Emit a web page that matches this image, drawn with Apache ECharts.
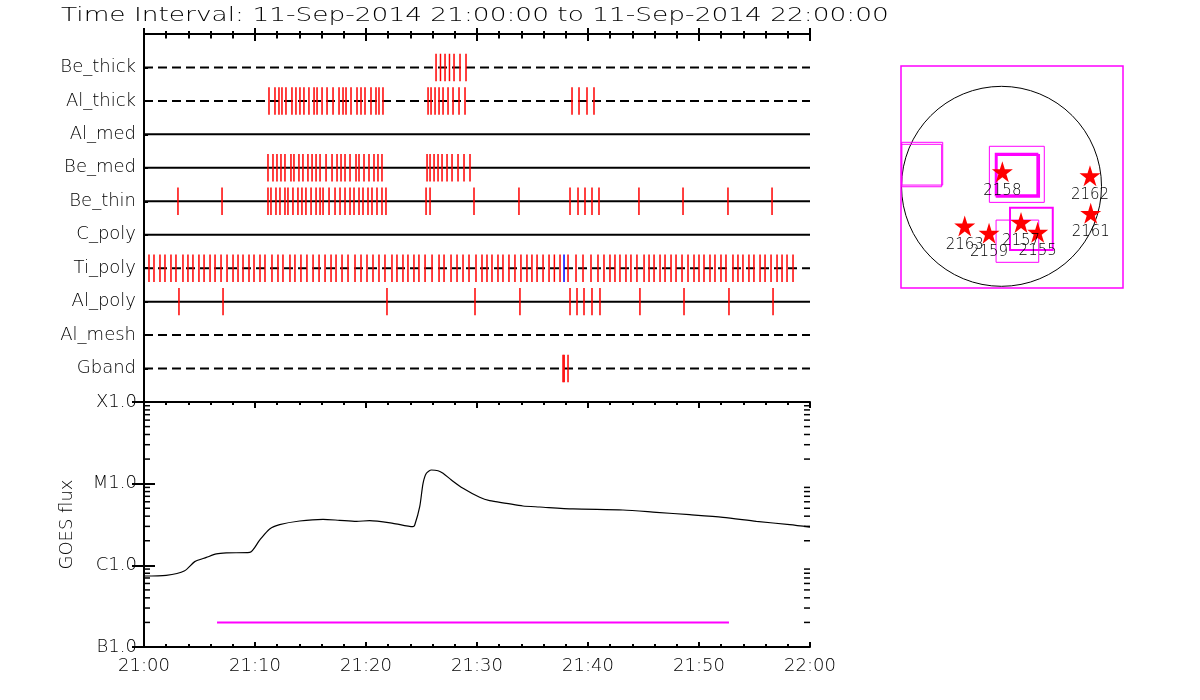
<!DOCTYPE html>
<html><head><meta charset="utf-8">
<script src="https://cdn.jsdelivr.net/npm/echarts@6/dist/echarts.min.js"></script>
<style>html,body{margin:0;padding:0;background:#fff}#c{width:1200px;height:700px}</style>
</head><body><div id="c"></div>
<script>
const titleText = 'Time Interval: 11-Sep-2014 21:00:00 to 11-Sep-2014 22:00:00';
const filterNames = ['Be_thick','Al_thick','Al_med','Be_med','Be_thin','C_poly','Ti_poly','Al_poly','Al_mesh','Gband'];
const filterDashed = [true,true,false,false,false,false,true,false,true,true];
const timeTickLabels = ['21:00','21:10','21:20','21:30','21:40','21:50','22:00'];
const fluxTickLabels = ['B1.0','C1.0','M1.0','X1.0'];
const yAxisTitle = 'GOES flux';

// exposure times, minutes after 21:00:00
const beThick = [26.31, 26.71, 27.12, 27.52, 27.93, 28.47, 29.01];
const alThick = [11.26, 11.80, 12.16, 12.43, 12.79, 13.33, 13.69, 14.05, 14.41, 14.86, 15.32, 15.59, 16.04, 16.49, 17.03, 17.57, 17.93, 18.20, 18.65, 19.19, 19.55, 19.91, 20.45, 20.90, 21.17, 21.53, 25.59, 25.86, 26.22, 26.58, 26.94, 27.39, 27.84, 28.38, 28.92, 38.56, 39.19, 39.91, 40.54];
const alMed = [];
const beMed = [11.17, 11.62, 11.98, 12.34, 12.70, 13.24, 13.51, 13.96, 14.32, 14.77, 15.14, 15.50, 15.86, 16.40, 16.94, 17.39, 17.75, 18.11, 18.56, 19.10, 19.37, 19.82, 20.27, 20.72, 21.08, 21.44, 25.50, 25.77, 26.13, 26.49, 26.85, 27.30, 27.75, 28.29, 28.83, 29.37];
const beThin = [3.06, 7.03, 11.17, 11.44, 11.89, 12.25, 12.70, 12.97, 13.42, 13.87, 14.23, 14.59, 15.05, 15.50, 15.86, 16.13, 16.67, 17.21, 17.66, 18.11, 18.56, 18.92, 19.37, 19.73, 20.18, 20.54, 20.99, 21.44, 21.80, 25.41, 25.77, 29.73, 33.78, 38.38, 39.10, 39.73, 40.36, 40.99, 44.59, 48.56, 52.61, 56.58];
const cPoly = [];
const tiPoly = [0.45, 0.90, 1.44, 1.89, 2.43, 2.88, 3.51, 3.96, 4.41, 4.95, 5.41, 5.95, 6.40, 6.94, 7.48, 8.02, 8.47, 8.92, 9.46, 9.91, 10.45, 10.90, 11.53, 12.07, 12.52, 13.15, 13.60, 14.14, 14.68, 15.23, 15.77, 16.31, 16.85, 17.30, 17.84, 18.38, 19.01, 19.55, 20.09, 20.63, 21.17, 21.71, 22.34, 22.79, 23.33, 23.78, 24.32, 24.77, 25.32, 25.95, 26.58, 27.03, 27.66, 28.20, 28.74, 29.28, 29.91, 30.45, 30.90, 31.35, 31.89, 32.34, 32.88, 33.42, 33.96, 34.50, 34.95, 35.41, 35.95, 36.49, 36.97, 37.48, 38.20, 38.92, 39.55, 40.27, 40.90, 41.44, 41.98, 42.43, 42.88, 43.42, 43.87, 44.41, 45.05, 45.50, 45.95, 46.49, 46.94, 47.48, 47.93, 48.47, 49.01, 49.55, 50.00, 50.45, 50.99, 51.44, 51.98, 52.43, 53.06, 53.51, 53.96, 54.50, 54.95, 55.50, 55.95, 56.49, 57.03, 57.48, 57.93, 58.47];
const tiPolyBlue = [37.84];
const alPoly = [3.15, 7.12, 21.89, 29.82, 33.87, 38.38, 39.01, 39.64, 40.36, 41.08, 44.68, 48.65, 52.70, 56.67];
const alMesh = [];
const gband = [37.75, 37.85, 38.20];

// GOES 1-8 A flux (W/m^2) vs minutes after 21:00
const goesTime = [0, 2.0, 3.67, 4.57, 5.62, 6.52, 7.42, 9.52, 10.42, 11.32, 12.22, 14.02, 16.13, 17.63, 19.14, 20.33, 22.43, 24.23, 24.39, 24.84, 25.14, 25.44, 25.89, 26.49, 26.94, 27.69, 28.74, 30.24, 31.14, 32.65, 34.14, 35.65, 38.65, 43.15, 46.16, 49.16, 52.16, 55.17, 58.17, 60];
const goesFlux = [7.40e-7, 7.55e-7, 8.6e-7, 1.11e-6, 1.25e-6, 1.38e-6, 1.42e-6, 1.44e-6, 2.04e-6, 2.79e-6, 3.15e-6, 3.49e-6, 3.66e-6, 3.56e-6, 3.46e-6, 3.52e-6, 3.27e-6, 2.97e-6, 3.12e-6, 5.22e-6, 1.01e-5, 1.34e-5, 1.47e-5, 1.44e-5, 1.34e-5, 1.11e-5, 8.77e-6, 6.81e-6, 6.19e-6, 5.75e-6, 5.33e-6, 5.18e-6, 4.90e-6, 4.76e-6, 4.46e-6, 4.17e-6, 3.87e-6, 3.46e-6, 3.15e-6, 2.94e-6];
const barTime = [6.58, 52.70];
const barFlux = [2.0e-7, 2.0e-7];

// solar map (arcsec)
const diskRadius = 954;
const fovBox = [-959, -970, 1159, 1148];
const thinBoxes = [[-952, 12, -561, 420], [-952, -4, -571, 401], [-116, -153, 408, 382], [-52, -725, 355, -322]];
const thickBoxes = [[-55, -86, 342, 311], [-46, -99, 358, 299], [81, -608, 489, -204]];
const arNumbers = ['2158', '2162', '2161', '2163', '2159', '2157', '2155'];
const arX = [8, 844, 851, -351, -119, 186, 345];
const arY = [139, 101, -258, -379, -448, -344, -439];

const FONT = 'DejaVu Sans';
const FW = 200;
const rowTimes = [beThick, alThick, alMed, beMed, beThin, cPoly, tiPoly, alPoly, alMesh, gband];
const tickData = [];
rowTimes.forEach((arr, i) => arr.forEach(t => tickData.push([t, i + 1])));
const blueData = tiPolyBlue.map(t => [t, 7]);
const minorFlux = [];
for (let e = -7; e < -4; e++) for (let k = 2; k <= 9; k++) minorFlux.push([k * Math.pow(10, e)]);

function tickRender(color) {
  return function (params, api) {
    const t = api.value(0), r = api.value(1);
    const a = api.coord([t, r - 0.41]), b = api.coord([t, r + 0.41]);
    return {type: 'line', shape: {x1: a[0], y1: a[1], x2: b[0], y2: b[1]}, style: {stroke: color, lineWidth: 1.5}};
  };
}
function rectRender(width) {
  return function (params, api) {
    const a = api.coord([api.value(0), api.value(1)]), b = api.coord([api.value(2), api.value(3)]);
    return {type: 'rect', shape: {x: Math.min(a[0], b[0]), y: Math.min(a[1], b[1]), width: Math.abs(b[0] - a[0]), height: Math.abs(b[1] - a[1])},
      style: {fill: 'none', stroke: '#ff00ff', lineWidth: width}};
  };
}
const axLine = {show: true, lineStyle: {color: '#000', width: 2}};
function xAx(grid, pos, major, minor, labels) {
  return {type: 'value', gridIndex: grid, position: pos, min: 0, max: 60, interval: 10,
    axisLine: axLine, splitLine: {show: false},
    axisTick: {show: true, inside: true, length: major, lineStyle: {color: '#000', width: 2}},
    minorTick: {show: true, splitNumber: 5, length: minor, lineStyle: {color: '#000', width: 2}},
    axisLabel: labels ? {show: true, margin: 10, color: '#000', fontFamily: FONT, fontWeight: FW, fontSize: 18, showMinLabel: true, showMaxLabel: true,
      formatter: v => timeTickLabels[Math.round(v / 10)]} : {show: false}};
}
const lineSeries = filterNames.map((n, i) => ({
  type: 'line', xAxisIndex: 0, yAxisIndex: 0, data: [[0, i + 1], [60, i + 1]], symbol: 'none', silent: true, z: 2,
  lineStyle: {color: '#000', width: 2, type: filterDashed[i] ? [9, 5] : 'solid'}
}));

const option = {
  animation: false,
  backgroundColor: '#fff',
  graphic: [{type: 'text', x: 61, y: 16, scaleX: 1.32, style: {text: titleText, font: '200 20px "DejaVu Sans"', fill: '#000', verticalAlign: 'middle'}}],
  grid: [
    {left: 144, top: 34, width: 666, height: 368, outerBoundsMode: 'none', containLabel: false},
    {left: 144, top: 402, width: 666, height: 245, outerBoundsMode: 'none', containLabel: false},
    {left: 901, top: 66, width: 222, height: 222, outerBoundsMode: 'none', containLabel: false}
  ],
  xAxis: [
    xAx(0, 'bottom', 6, 3, false),
    xAx(0, 'top', 7, 4.5, false),
    xAx(1, 'bottom', 5, 3, true),
    xAx(1, 'top', 6, 3, false),
    {type: 'value', gridIndex: 2, min: fovBox[0], max: fovBox[2], show: false}
  ],
  yAxis: [
    {type: 'value', gridIndex: 0, position: 'left', min: 0, max: 11, interval: 1, inverse: true,
      axisLine: axLine, splitLine: {show: false},
      axisTick: {show: true, inside: true, length: 4, lineStyle: {color: '#000', width: 2}},
      axisLabel: {show: true, margin: 8, color: '#000', fontFamily: FONT, fontWeight: FW, fontSize: 18, formatter: v => filterNames[v - 1] || ''}},
    {type: 'value', gridIndex: 0, position: 'right', min: 0, max: 11, interval: 1, inverse: true,
      axisLine: axLine, splitLine: {show: false}, axisTick: {show: false}, axisLabel: {show: false}},
    {type: 'log', logBase: 10, gridIndex: 1, position: 'left', min: 1e-7, max: 1e-4,
      axisLine: axLine, splitLine: {show: false},
      axisTick: {show: true, inside: true, length: 11, lineStyle: {color: '#000', width: 2}},
      axisLabel: {show: true, margin: 7, color: '#000', fontFamily: FONT, fontWeight: FW, fontSize: 18, showMinLabel: true, showMaxLabel: true,
        formatter: v => fluxTickLabels[Math.round(Math.log10(v)) + 7] || ''},
      name: yAxisTitle, nameLocation: 'middle', nameRotate: 90, nameGap: 68,
      nameTextStyle: {color: '#000', fontFamily: FONT, fontWeight: FW, fontSize: 18}},
    {type: 'log', logBase: 10, gridIndex: 1, position: 'right', min: 1e-7, max: 1e-4,
      axisLine: axLine, splitLine: {show: false},
      axisTick: {show: true, inside: true, length: 12, lineStyle: {color: '#000', width: 2}},
      axisLabel: {show: false}},
    {type: 'value', gridIndex: 2, min: fovBox[1], max: fovBox[3], show: false}
  ],
  series: [
    ...lineSeries,
    {type: 'custom', xAxisIndex: 0, yAxisIndex: 0, data: tickData, renderItem: tickRender('#ff0000'), z: 5, silent: true},
    {type: 'custom', xAxisIndex: 0, yAxisIndex: 0, data: blueData, renderItem: tickRender('#0000ff'), z: 6, silent: true},
    {type: 'line', xAxisIndex: 2, yAxisIndex: 2, data: goesTime.map((t, i) => [t, goesFlux[i]]), symbol: 'none', smooth: 0.25,
      lineStyle: {color: '#000', width: 1.2}, silent: true},
    {type: 'line', xAxisIndex: 2, yAxisIndex: 2, data: barTime.map((t, i) => [t, barFlux[i]]), symbol: 'none',
      lineStyle: {color: '#ff00ff', width: 2}, silent: true},
    {type: 'custom', xAxisIndex: 2, yAxisIndex: 2, data: minorFlux, clip: false, silent: true,
      encode: {y: 0},
      renderItem: function (params, api) {
        const v = api.value(0);
        const l = api.coord([0, v]), r = api.coord([60, v]);
        return {type: 'group', children: [
          {type: 'line', shape: {x1: l[0], y1: l[1], x2: l[0] + 6, y2: l[1]}, style: {stroke: '#000', lineWidth: 1.5}},
          {type: 'line', shape: {x1: r[0] - 6, y1: r[1], x2: r[0], y2: r[1]}, style: {stroke: '#000', lineWidth: 1.5}}
        ]};
      }},
    {type: 'custom', xAxisIndex: 4, yAxisIndex: 4, data: [[0, 0, diskRadius]], clip: false, silent: true,
      renderItem: function (params, api) {
        const c = api.coord([api.value(0), api.value(1)]);
        const r = api.size([api.value(2), 0])[0];
        return {type: 'circle', shape: {cx: c[0], cy: c[1], r: r}, style: {fill: 'none', stroke: '#000', lineWidth: 1}};
      }},
    {type: 'custom', xAxisIndex: 4, yAxisIndex: 4, data: [fovBox], clip: false, silent: true, encode: {x: [0, 2], y: [1, 3]}, renderItem: rectRender(1.5)},
    {type: 'custom', xAxisIndex: 4, yAxisIndex: 4, data: thinBoxes, clip: false, silent: true, encode: {x: [0, 2], y: [1, 3]}, renderItem: rectRender(1)},
    {type: 'custom', xAxisIndex: 4, yAxisIndex: 4, data: thickBoxes, clip: false, silent: true, encode: {x: [0, 2], y: [1, 3]}, renderItem: rectRender(2)},
    {type: 'scatter', xAxisIndex: 4, yAxisIndex: 4, silent: true, z: 10,
      data: arNumbers.map((n, i) => ({name: n, value: [arX[i], arY[i]]})),
      symbol: 'path://M50,0 L61.2,34.5 L97.6,34.5 L68.2,55.9 L79.4,90.5 L50,69.1 L20.6,90.5 L31.8,55.9 L2.4,34.5 L38.8,34.5 Z',
      symbolSize: 21, itemStyle: {color: '#ff0000', opacity: 1},
      label: {show: true, position: 'bottom', distance: 1, formatter: p => p.name, color: '#000', fontFamily: FONT, fontWeight: FW, fontSize: 15}}
  ]
};
const chart = echarts.init(document.getElementById('c'), null, {renderer: 'canvas'});
chart.setOption(option);
</script>
</body></html>
